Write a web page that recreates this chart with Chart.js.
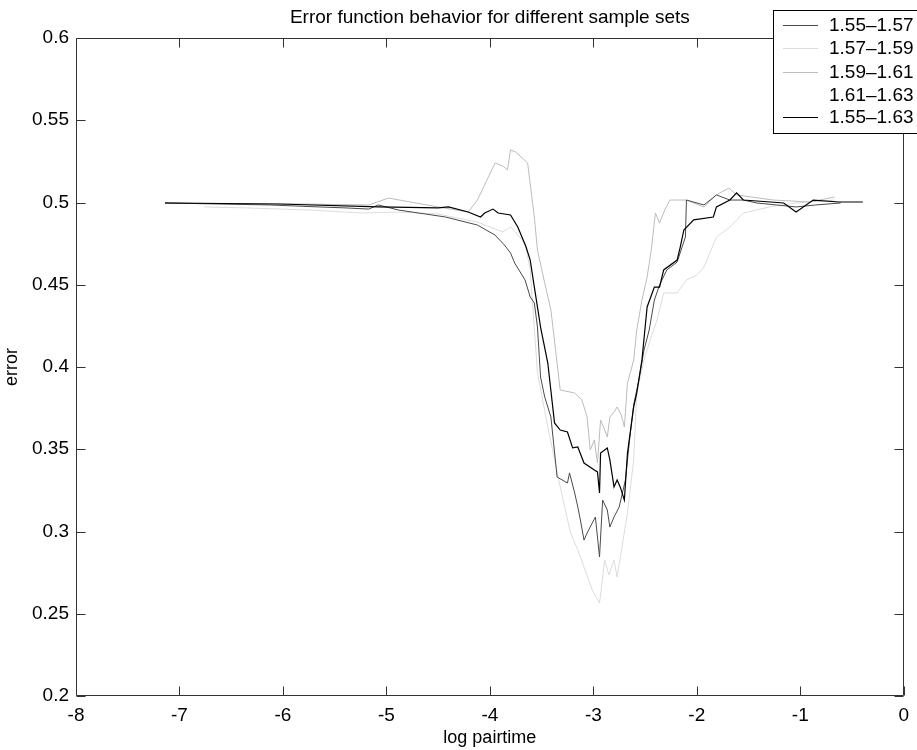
<!DOCTYPE html>
<html>
<head>
<meta charset="utf-8">
<script src="https://cdn.jsdelivr.net/npm/chart.js@4.4.1/dist/chart.umd.min.js"></script>
<style>
  body { margin: 0; background: #fff; }
  #wrap { width: 917px; height: 750px; }
</style>
</head>
<body>
<div id="wrap"><canvas id="chart" width="917" height="750"></canvas></div>
<script>
const chartTitle = 'Error function behavior for different sample sets';

// series labels (legend order)
const seriesLabels = ['1.55\u20131.57', '1.57\u20131.59', '1.59\u20131.61', '1.61\u20131.63', '1.55\u20131.63'];

// 1.55-1.57
const s1X = [-7.14,-6.63,-6.13,-5.65,-5.39,-5.17,-5.08,-4.88,-4.43,-4.12,-3.95,-3.86,-3.80,-3.76,-3.66,-3.61,-3.57,-3.54,-3.51,-3.47,-3.41,-3.35,-3.25,-3.23,-3.18,-3.15,-3.125,-3.09,-3.06,-3.01,-2.98,-2.94,-2.91,-2.865,-2.84,-2.80,-2.75,-2.69,-2.65,-2.61,-2.56,-2.51,-2.46,-2.41,-2.36,-2.29,-2.19,-2.11,-2.10,-1.93,-1.81,-1.68,-1.55,-1.42,-1.23,-1.04,-0.85,-0.61];
const s1Y = [0.4997,0.4991,0.4985,0.4973,0.4967,0.4960,0.4985,0.4954,0.4912,0.4863,0.4802,0.4742,0.4693,0.4632,0.4529,0.4426,0.4389,0.4243,0.3939,0.3818,0.3696,0.3331,0.3295,0.3356,0.3234,0.3149,0.3070,0.2948,0.2991,0.3052,0.3088,0.2845,0.3191,0.3131,0.3027,0.3088,0.3149,0.3313,0.3556,0.3769,0.3921,0.4103,0.4225,0.4407,0.4498,0.4590,0.4638,0.4790,0.5015,0.4985,0.5046,0.5015,0.5015,0.4997,0.4985,0.4973,0.4985,0.4997];

// 1.57-1.59
const s2X = [-6.76,-6.36,-5.72,-5.24,-4.88,-4.50,-4.12,-3.875,-3.80,-3.66,-3.61,-3.54,-3.44,-3.32,-3.22,-3.15,-3.09,-3.01,-2.94,-2.89,-2.85,-2.80,-2.77,-2.72,-2.67,-2.61,-2.58,-2.51,-2.45,-2.385,-2.32,-2.19,-2.10,-2.00,-1.93,-1.81,-1.68,-1.55,-1.30,-1.04,-0.67];
const s2Y = [0.4973,0.4967,0.4954,0.4936,0.4942,0.4930,0.4881,0.4821,0.4851,0.4754,0.4590,0.3964,0.3635,0.3271,0.2991,0.2888,0.2784,0.2644,0.2565,0.2827,0.2736,0.2827,0.2723,0.2918,0.3112,0.3435,0.3842,0.4043,0.4164,0.4286,0.4450,0.4450,0.4529,0.4559,0.4608,0.4790,0.4851,0.4936,0.4973,0.4997,0.5015];

// 1.59-1.61
const s3X = [-7.14,-5.85,-5.17,-4.98,-4.50,-4.21,-4.12,-3.95,-3.875,-3.83,-3.80,-3.75,-3.635,-3.57,-3.54,-3.47,-3.41,-3.365,-3.32,-3.18,-3.11,-3.06,-3.03,-2.99,-2.96,-2.93,-2.89,-2.865,-2.84,-2.80,-2.77,-2.73,-2.70,-2.67,-2.635,-2.61,-2.58,-2.53,-2.48,-2.44,-2.40,-2.36,-2.31,-2.26,-2.10,-1.93,-1.81,-1.69,-1.615,-1.26,-0.91,-0.67];
const s3Y = [0.4997,0.4991,0.4985,0.5027,0.4973,0.4942,0.5015,0.5240,0.5222,0.5198,0.5320,0.5307,0.5240,0.4912,0.4711,0.4511,0.4347,0.4103,0.3860,0.3842,0.3799,0.3696,0.3495,0.3556,0.3416,0.3678,0.3617,0.3574,0.3696,0.3726,0.3757,0.3708,0.3635,0.3903,0.3982,0.4043,0.4225,0.4407,0.4547,0.4711,0.4936,0.4875,0.4954,0.5015,0.5015,0.4973,0.5046,0.5088,0.5046,0.5015,0.5003,0.5033];

// 1.61-1.63 (drawn in white, not visible)
const s4X = [-7.0,-5.5,-4.5,-4.0,-3.6,-3.3,-3.0,-2.8,-2.6,-2.3,-2.0,-1.5,-1.0,-0.6];
const s4Y = [0.4995,0.4985,0.4960,0.4900,0.4600,0.3600,0.3000,0.3100,0.3800,0.4600,0.4900,0.5000,0.5010,0.5010];

// 1.55-1.63
const s5X = [-7.14,-6.04,-5.08,-4.50,-4.40,-4.21,-4.09,-4.05,-3.97,-3.92,-3.80,-3.73,-3.65,-3.61,-3.57,-3.54,-3.51,-3.44,-3.375,-3.32,-3.25,-3.20,-3.15,-3.09,-2.99,-2.96,-2.94,-2.93,-2.865,-2.84,-2.80,-2.77,-2.74,-2.70,-2.67,-2.61,-2.58,-2.53,-2.48,-2.41,-2.36,-2.32,-2.19,-2.16,-2.125,-2.03,-1.84,-1.81,-1.68,-1.615,-1.55,-1.16,-1.04,-0.875,-0.625,-0.395];
const s5Y = [0.4997,0.4991,0.4973,0.4967,0.4973,0.4942,0.4912,0.4936,0.4960,0.4936,0.4924,0.4851,0.4729,0.4650,0.4486,0.4365,0.4243,0.4024,0.3660,0.3617,0.3605,0.3508,0.3514,0.3416,0.3374,0.3362,0.3234,0.3477,0.3508,0.3435,0.3271,0.3313,0.3271,0.3191,0.3477,0.3757,0.3842,0.4043,0.4365,0.4486,0.4486,0.4590,0.4650,0.4729,0.4833,0.4894,0.4912,0.4973,0.5015,0.5058,0.5015,0.4997,0.4942,0.5015,0.5003,0.5003];

// axis ticks
const xTicks = [-8, -7, -6, -5, -4, -3, -2, -1, 0];
const yTicks = [0.2, 0.25, 0.3, 0.35, 0.4, 0.45, 0.5, 0.55, 0.6];
const yTickLabels = ['0.2', '0.25', '0.3', '0.35', '0.4', '0.45', '0.5', '0.55', '0.6'];

const FONT = '"Liberation Sans", Arial, Helvetica, sans-serif';

const toPoints = (xs, ys) => xs.map((x, i) => ({ x: x, y: ys[i] }));

const seriesData = [[s1X, s1Y], [s2X, s2Y], [s3X, s3Y], [s4X, s4Y], [s5X, s5Y]];
const seriesColors = ['#4a4a4a', '#dcdcdc', '#bcbcbc', '#ffffff', '#000000'];
const seriesOrder = [1, 3, 2, 4, 0];

const datasets = seriesData.map((d, i) => ({
  label: seriesLabels[i],
  data: toPoints(d[0], d[1]),
  borderColor: seriesColors[i],
  borderWidth: i === 4 ? 1.2 : 1,
  pointRadius: 0,
  tension: 0,
  fill: false,
  order: seriesOrder[i]
}));

// box around the plot with inward tick marks, title centred over the plot
const boxAxes = {
  id: 'boxAxes',
  afterDatasetsDraw(chart) {
    const { ctx, chartArea: a, scales } = chart;
    const l = Math.round(a.left) + 0.5, r = Math.round(a.right) - 0.5;
    const t = Math.round(a.top) + 0.5, b = Math.round(a.bottom) - 0.5;
    ctx.save();
    ctx.strokeStyle = '#333';
    ctx.lineWidth = 1;
    ctx.beginPath();
    ctx.rect(l, t, r - l, b - t);
    xTicks.forEach(v => {
      const px = Math.round(scales.x.getPixelForValue(v)) + 0.5;
      ctx.moveTo(px, b); ctx.lineTo(px, b - 9);
      ctx.moveTo(px, t); ctx.lineTo(px, t + 9);
    });
    yTicks.forEach(v => {
      const py = Math.round(scales.y.getPixelForValue(v)) + 0.5;
      ctx.moveTo(l, py); ctx.lineTo(l + 9, py);
      ctx.moveTo(r, py); ctx.lineTo(r - 9, py);
    });
    ctx.stroke();

    ctx.fillStyle = '#000';
    ctx.font = '19px ' + FONT;
    ctx.textAlign = 'center';
    ctx.textBaseline = 'alphabetic';
    ctx.fillText(chartTitle, (a.left + a.right) / 2, 23);
    ctx.restore();
  }
};

// legend box in the top right corner, partly off the canvas
const cornerLegend = {
  id: 'cornerLegend',
  afterDraw(chart) {
    const { ctx } = chart;
    const bx = 773.5, by = 10.5, bw = 170, bh = 123;
    ctx.save();
    ctx.fillStyle = '#fff';
    ctx.fillRect(bx, by, bw, bh);
    ctx.strokeStyle = '#000';
    ctx.lineWidth = 1;
    ctx.strokeRect(bx, by, bw, bh);
    ctx.font = '19px ' + FONT;
    ctx.textBaseline = 'middle';
    ctx.textAlign = 'left';
    const rows = [25, 48, 72, 95, 117];
    chart.data.datasets.forEach((ds, i) => {
      const y = rows[i] + 0.5;
      ctx.strokeStyle = ds.borderColor;
      ctx.beginPath();
      ctx.moveTo(783, y);
      ctx.lineTo(818, y);
      ctx.stroke();
      ctx.fillStyle = '#000';
      ctx.fillText(ds.label, 829, rows[i] + 1);
    });
    ctx.restore();
  }
};

new Chart(document.getElementById('chart'), {
  type: 'line',
  data: { datasets: datasets },
  options: {
    responsive: false,
    animation: false,
    layout: { padding: { left: 0, right: 6, top: 38, bottom: 0 } },
    plugins: {
      legend: { display: false },
      tooltip: { enabled: false },
      title: { display: false }
    },
    scales: {
      x: {
        type: 'linear',
        min: -8,
        max: 0,
        afterBuildTicks: s => { s.ticks = xTicks.map(v => ({ value: v })); },
        afterFit: s => { s.height = 54; },
        grid: { display: false, drawTicks: false },
        border: { display: false },
        ticks: {
          color: '#000',
          padding: 8,
          maxRotation: 0,
          font: { family: FONT, size: 19 },
          callback: v => String(v)
        },
        title: {
          display: true,
          text: 'log pairtime',
          color: '#000',
          font: { family: FONT, size: 18 },
          padding: { top: 0, bottom: 1 }
        }
      },
      y: {
        type: 'linear',
        min: 0.2,
        max: 0.6,
        afterBuildTicks: s => { s.ticks = yTicks.map(v => ({ value: v })); },
        afterFit: s => { s.width = 76; },
        grid: { display: false, drawTicks: false },
        border: { display: false },
        ticks: {
          color: '#000',
          padding: 7,
          font: { family: FONT, size: 19 },
          callback: (v, i) => yTickLabels[i]
        },
        title: {
          display: true,
          text: 'error',
          color: '#000',
          font: { family: FONT, size: 18 },
          padding: { top: 1, bottom: 0 }
        }
      }
    }
  },
  plugins: [boxAxes, cornerLegend]
});
</script>
</body>
</html>
